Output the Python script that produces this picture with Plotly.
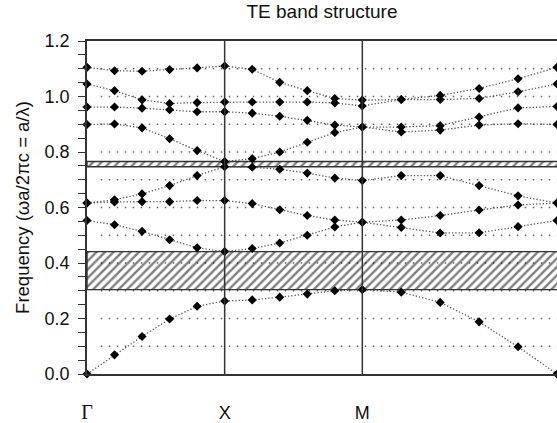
import numpy as np
import plotly.graph_objects as go

# High-symmetry path Γ-X-M-Γ, 5 intervals per segment
SEG_LENGTHS = [1.0, 1.0, np.sqrt(2)]
N_INT = 5
HS_LABELS = ["Γ", "X", "M", "Γ"]

bands = {
    "band1": [0.000, 0.069, 0.135, 0.198, 0.244, 0.263, 0.267, 0.277, 0.288, 0.300, 0.304, 0.295, 0.258, 0.188, 0.098, 0.000],
    "band2": [0.553, 0.538, 0.514, 0.484, 0.455, 0.441, 0.452, 0.472, 0.500, 0.530, 0.547, 0.528, 0.508, 0.509, 0.531, 0.553],
    "band3": [0.616, 0.620, 0.621, 0.621, 0.625, 0.625, 0.614, 0.592, 0.571, 0.555, 0.547, 0.555, 0.571, 0.591, 0.609, 0.616],
    "band4": [0.616, 0.628, 0.649, 0.679, 0.715, 0.747, 0.745, 0.738, 0.724, 0.706, 0.697, 0.715, 0.715, 0.679, 0.642, 0.616],
    "band5": [0.899, 0.901, 0.887, 0.848, 0.805, 0.766, 0.776, 0.800, 0.835, 0.870, 0.890, 0.872, 0.879, 0.897, 0.902, 0.899],
    "band6": [0.962, 0.962, 0.958, 0.952, 0.945, 0.945, 0.940, 0.929, 0.914, 0.897, 0.890, 0.890, 0.895, 0.926, 0.959, 0.964],
    "band7": [1.045, 1.021, 0.988, 0.975, 0.978, 0.980, 0.980, 0.980, 0.980, 0.977, 0.966, 0.989, 0.989, 0.993, 1.017, 1.045],
    "band8": [1.105, 1.093, 1.091, 1.097, 1.103, 1.110, 1.098, 1.051, 1.021, 0.993, 0.987, 0.989, 1.004, 1.029, 1.064, 1.105],
}
GAP_PAIRS = [("band1", "band2"), ("band4", "band5")]
GRID_LEVELS = [0.1, 0.2, 0.3, 0.4, 0.5, 0.6, 0.7, 0.8, 0.9, 1.0, 1.1]

# k-path coordinates
hs_pos = np.concatenate([[0.0], np.cumsum(SEG_LENGTHS)])
k = [0.0]
for i, L in enumerate(SEG_LENGTHS):
    for j in range(1, N_INT + 1):
        k.append(hs_pos[i] + L * j / N_INT)
k = np.array(k)
kmax = hs_pos[-1]

fig = go.Figure()

# hatched band gaps
for lo_name, hi_name in GAP_PAIRS:
    lo = max(bands[lo_name])
    hi = min(bands[hi_name])
    fig.add_trace(go.Scatter(
        x=[0, kmax * 1.05, kmax * 1.05, 0, 0], y=[lo, lo, hi, hi, lo],
        mode="lines", fill="toself", fillcolor="rgba(0,0,0,0)",
        fillpattern=dict(shape="/", fgcolor="#000000", bgcolor="rgba(0,0,0,0)", size=6, solidity=0.4),
        line=dict(color="#333333", width=1.4), hoverinfo="skip", showlegend=False,
        cliponaxis=True,
    ))

for name, vals in bands.items():
    fig.add_trace(go.Scatter(
        x=k, y=vals, mode="lines+markers", name=name,
        line=dict(color="#555555", width=1.3, dash="1.3px,2px"),
        marker=dict(symbol="diamond", size=7, color="black"),
        showlegend=False, cliponaxis=False,
    ))

shapes = []
for g in GRID_LEVELS:
    shapes.append(dict(type="line", xref="x", yref="y", x0=0.1, x1=kmax * 1.05, y0=g, y1=g,
                       line=dict(color="#666666", width=1.5, dash="1.5px,6.5px"), layer="below"))
for p in hs_pos[1:-1]:
    shapes.append(dict(type="line", xref="x", yref="y", x0=p, x1=p, y0=0, y1=1.2,
                       line=dict(color="#333333", width=1.5), layer="above"))

ticktext = []
for lab in HS_LABELS:
    if lab == "Γ":
        ticktext.append('<span style="font-family:Liberation Serif;font-size:20px">Γ</span>')
    else:
        ticktext.append(lab)

fig.update_layout(
    width=557, height=423,
    margin=dict(l=87, r=0, t=41, b=47),
    paper_bgcolor="white", plot_bgcolor="white",
    font=dict(family="Liberation Sans, Arial", color="#111111", size=18),
    title=dict(text="TE band structure", x=0.5, xanchor="center", xref="paper",
               y=0.99, yanchor="top", yref="container", font=dict(size=19)),
    shapes=shapes,
)
fig.update_xaxes(
    range=[0, kmax], tickvals=list(hs_pos), ticktext=ticktext,
    showgrid=False, zeroline=False, showline=True, linecolor="#333333", linewidth=1.5,
    mirror=True, ticks="", ticklabelstandoff=22, tickfont=dict(size=18),
)
fig.update_yaxes(
    range=[0, 1.2], dtick=0.2, tick0=0, tickformat=".1f",
    showgrid=False, zeroline=False, showline=True, linecolor="#333333", linewidth=1.5,
    mirror=False, ticks="outside", ticklen=7, tickcolor="#333333", tickwidth=1.3,
    minor=dict(dtick=0.05, ticks="outside", ticklen=7, tickcolor="#333333", tickwidth=1.3, showgrid=False),
    tickfont=dict(size=18), ticklabelstandoff=5,
    title=dict(text="Frequency (ωa/2πc = a/λ)", font=dict(size=18.5), standoff=10),
)

fig.write_html("out.html")
